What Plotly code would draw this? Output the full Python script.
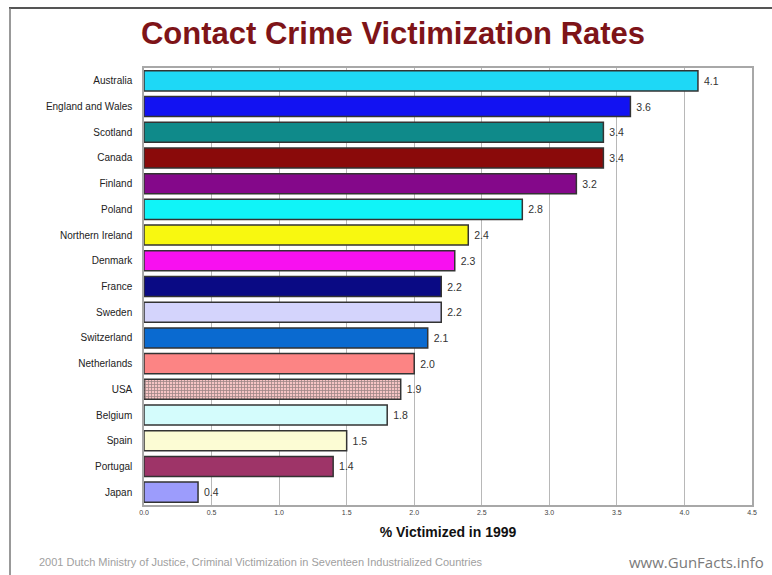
import plotly.graph_objects as go

countries = ["Australia", "England and Wales", "Scotland", "Canada", "Finland", "Poland",
             "Northern Ireland", "Denmark", "France", "Sweden", "Switzerland", "Netherlands",
             "USA", "Belgium", "Spain", "Portugal", "Japan"]
rates = [4.1, 3.6, 3.4, 3.4, 3.2, 2.8, 2.4, 2.3, 2.2, 2.2, 2.1, 2.0, 1.9, 1.8, 1.5, 1.4, 0.4]
bar_colors = ["#1ED8F6", "#1212F2", "#0F8A8A", "#8A0A0A", "#84088A", "#10F4F8",
              "#F8F810", "#F810F0", "#0A0A84", "#D4D4FC", "#0A6AD0", "#FC8484",
              "#F6C4C4", "#D4FCFC", "#FCFCD4", "#9E3468", "#9C9CFC"]
x_ticks = [0.0, 0.5, 1.0, 1.5, 2.0, 2.5, 3.0, 3.5, 4.0, 4.5]

W, H = 772, 575
L, R, T, B = 144, 20, 68, 70
pw, ph = W - L - R, H - T - B

def px(x):
    return (x - L) / pw

def py(y):
    return (H - B - y) / ph

fig = go.Figure()
fig.add_trace(go.Bar(
    x=rates, y=countries, orientation="h",
    marker=dict(color=bar_colors, line=dict(color="#333333", width=1.5),
                pattern=dict(shape=["+" if c == "USA" else "" for c in countries],
                             fgcolor="#E06868", size=3, solidity=0.45)),
    text=[f" {v:.1f}" for v in rates], textposition="outside",
    textfont=dict(family="Liberation Sans, Arial", size=10.5, color="#333333"),
    cliponaxis=False, width=0.78,
))

fig.update_layout(
    width=W, height=H,
    margin=dict(l=L, r=R, t=T, b=B),
    paper_bgcolor="white", plot_bgcolor="white",
    showlegend=False,
    title=dict(text="<b>Contact Crime Victimization Rates</b>",
               font=dict(family="Liberation Sans, Arial", size=31, color="#7E1418"),
               x=393 / W, xanchor="center", y=1 - 33 / H, yanchor="middle", xref="container"),
    xaxis=dict(range=[0, 4.5], tickvals=x_ticks, ticktext=[f"{t:.1f}" for t in x_ticks],
               tickfont=dict(family="Liberation Sans, Arial", size=7, color="#444444"),
               showgrid=True, gridcolor="#b8b8b8", gridwidth=1,
               showline=True, linecolor="#a8a8a8", linewidth=1.5, mirror=True,
               ticks="", zeroline=False,
               title=dict(text="<b>% Victimized in 1999</b>",
                          font=dict(family="Liberation Sans, Arial", size=14, color="#111111"),
                          standoff=12)),
    yaxis=dict(autorange="reversed", tickfont=dict(family="Liberation Sans, Arial", size=10, color="#222222"),
               showline=True, linecolor="#a8a8a8", linewidth=1.5, mirror=True,
               ticks="", ticklabelstandoff=8, showgrid=False),
    bargap=0.22,
)

# slide frame lines
fig.add_shape(type="line", xref="paper", yref="paper", x0=px(9), x1=px(W + 5), y0=py(8), y1=py(8),
              line=dict(color="#555555", width=2))
fig.add_shape(type="line", xref="paper", yref="paper", x0=px(10), x1=px(10), y0=py(8), y1=py(H + 5),
              line=dict(color="#777777", width=1.5))

fig.add_annotation(text="2001 Dutch Ministry of Justice, Criminal Victimization in Seventeen Industrialized Countries",
                   xref="paper", yref="paper", x=px(37), y=py(562), xanchor="left", yanchor="middle",
                   showarrow=False, font=dict(family="Liberation Sans, Arial", size=11, color="#a0a0a0"))
fig.add_annotation(text="www.GunFacts.info", xref="paper", yref="paper", x=px(766), y=py(562),
                   xanchor="right", yanchor="middle", showarrow=False,
                   font=dict(family="Open Sans", size=15, color="#7a7a7a"))

fig.write_html("out.html", config={"displayModeBar": False},
               post_script="document.body.style.margin='0';document.body.style.overflow='hidden';")
